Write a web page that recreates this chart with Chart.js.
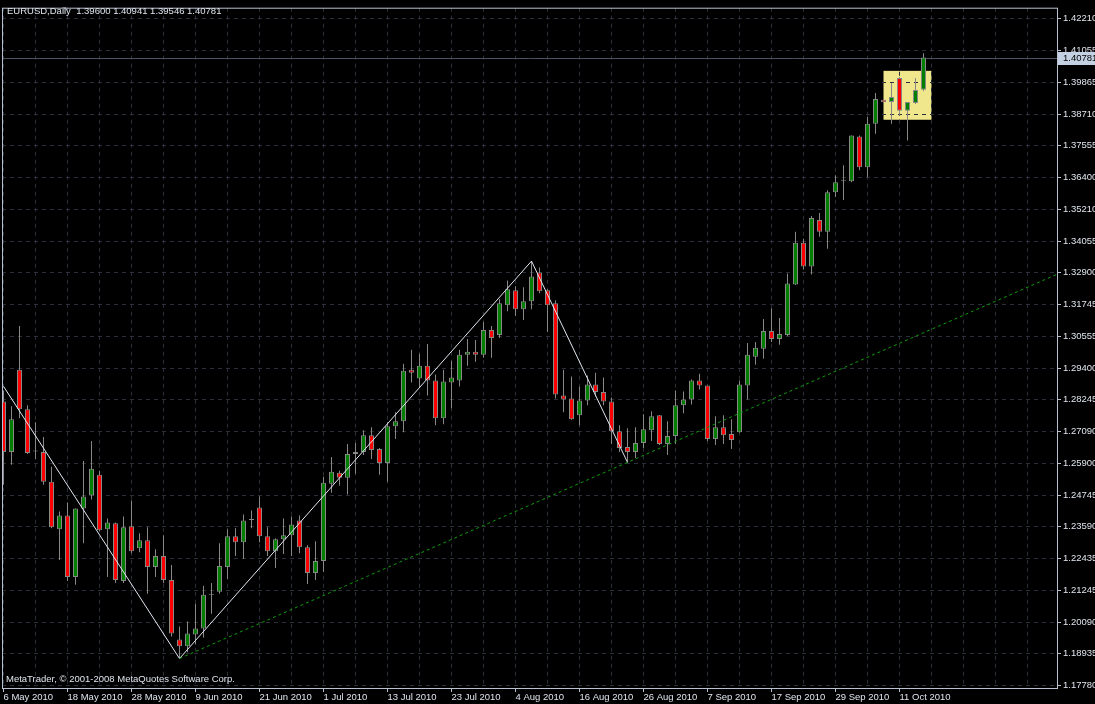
<!DOCTYPE html>
<html>
<head>
<meta charset="utf-8">
<title>EURUSD Daily</title>
<script src="https://cdn.jsdelivr.net/npm/chart.js@4.4.1/dist/chart.umd.min.js"></script>
<style>
  html, body { margin: 0; padding: 0; background: #000; }
  #wrap { position: relative; width: 1095px; height: 704px; }
</style>
</head>
<body>
<div id="wrap"><canvas id="eurChart"></canvas></div>
<script>
const symbolTitle = "EURUSD,Daily";
const copyrightText = "MetaTrader, \u00a9 2001-2008 MetaQuotes Software Corp.";

// daily bars, index 0 = 6 May 2010, last = 14 Oct 2010
const opens = [
  1.28177, 1.26323, 1.29341, 1.27887, 1.26341, 1.26323, 1.25233, 1.23488, 1.23997, 1.21743,
  1.24251, 1.24724, 1.25487, 1.23488, 1.23706, 1.21597, 1.23597, 1.22797, 1.23088, 1.22106,
  1.22506, 1.21634, 1.19452, 1.19198, 1.19634, 1.19852, 1.21088, 1.21197, 1.22106, 1.23233,
  1.23015, 1.23833, 1.24287, 1.23233, 1.22688, 1.23124, 1.23269, 1.23815, 1.22833, 1.21888,
  1.22324, 1.25160, 1.25560, 1.25378, 1.26251, 1.26323, 1.26941, 1.26432, 1.25923, 1.27269,
  1.27450, 1.29341, 1.29014, 1.29486, 1.28941, 1.27559, 1.28868, 1.28941, 1.29886, 1.29995,
  1.29886, 1.30795, 1.30613, 1.31704, 1.32249, 1.31558, 1.31849, 1.32904, 1.32249, 1.31777,
  1.28396, 1.28286, 1.27668, 1.28214, 1.28795, 1.28523, 1.28177, 1.27087, 1.26505, 1.26323,
  1.26650, 1.27123, 1.27668, 1.26614, 1.26905, 1.28032, 1.28250, 1.28941, 1.28759, 1.26796,
  1.27232, 1.26978, 1.27050, 1.28759, 1.29813, 1.30104, 1.30759, 1.30468, 1.30613, 1.32467,
  1.33994, 1.33122, 1.34830, 1.34394, 1.35848, 1.36266, 1.36248, 1.37884, 1.36757, 1.38357,
  1.39240, 1.39157, 1.40029, 1.38829, 1.39120, 1.39600
];
const highs = [
  1.28577, 1.27996, 1.30940, 1.28032, 1.27414, 1.26869, 1.25778, 1.24142, 1.24469, 1.24251,
  1.25996, 1.26723, 1.25633, 1.23888, 1.23742, 1.23960, 1.24542, 1.23342, 1.23560, 1.22761,
  1.23269, 1.22179, 1.19925, 1.20107, 1.20761, 1.21415, 1.21524, 1.22979, 1.23488, 1.23524,
  1.24033, 1.24178, 1.24687, 1.23560, 1.23160, 1.23888, 1.23960, 1.23997, 1.22906, 1.23051,
  1.25414, 1.26142, 1.25633, 1.26614, 1.26650, 1.27123, 1.27232, 1.26469, 1.27414, 1.27777,
  1.29559, 1.30068, 1.29922, 1.30286, 1.29159, 1.29341, 1.29668, 1.30068, 1.30468, 1.30431,
  1.31086, 1.30940, 1.31922, 1.32613, 1.32395, 1.32358, 1.33320, 1.33085, 1.32286, 1.31886,
  1.29341, 1.29086, 1.28723, 1.29123, 1.29232, 1.29050, 1.28323, 1.27305, 1.27196, 1.27232,
  1.27705, 1.27814, 1.27668, 1.27450, 1.28577, 1.28541, 1.28977, 1.29195, 1.28759, 1.27632,
  1.27668, 1.27523, 1.28941, 1.30322, 1.30359, 1.31195, 1.31595, 1.31231, 1.32867, 1.34394,
  1.34140, 1.34976, 1.35085, 1.35921, 1.36466, 1.36830, 1.37921, 1.37921, 1.38611, 1.39484,
  1.39247, 1.39847, 1.40065, 1.39157, 1.40029, 1.40941
];
const lows = [
  1.25124, 1.25851, 1.27559, 1.26251, 1.26069, 1.25124, 1.23524, 1.22361, 1.21597, 1.21452,
  1.22979, 1.24578, 1.23415, 1.21743, 1.21524, 1.21524, 1.22615, 1.22651, 1.21125, 1.21743,
  1.21524, 1.19561, 1.18751, 1.18980, 1.19270, 1.19525, 1.20397, 1.21125, 1.21670, 1.22506,
  1.22397, 1.23524, 1.23015, 1.22506, 1.22070, 1.22579, 1.22506, 1.22615, 1.21488, 1.21634,
  1.21924, 1.24833, 1.25087, 1.24760, 1.25523, 1.26214, 1.26069, 1.25487, 1.25233, 1.26796,
  1.27050, 1.28868, 1.28686, 1.28396, 1.27305, 1.27341, 1.27923, 1.28723, 1.29486, 1.29632,
  1.29777, 1.29777, 1.30504, 1.31486, 1.31304, 1.31159, 1.31558, 1.32140, 1.30722, 1.28286,
  1.27777, 1.27505, 1.27305, 1.28032, 1.28359, 1.28032, 1.26614, 1.26323, 1.25942, 1.26105,
  1.26469, 1.26723, 1.26578, 1.26214, 1.26614, 1.27741, 1.28068, 1.28614, 1.26723, 1.26578,
  1.26614, 1.26432, 1.27032, 1.28250, 1.29523, 1.29741, 1.30359, 1.30250, 1.30577, 1.32449,
  1.33013, 1.32831, 1.34212, 1.33776, 1.35667, 1.35557, 1.36212, 1.36648, 1.36394, 1.37993,
  1.39138, 1.38357, 1.38684, 1.37739, 1.39084, 1.39546
];
const closes = [
  1.26323, 1.27523, 1.27887, 1.26287, 1.26378, 1.25233, 1.23560, 1.23997, 1.21743, 1.24251,
  1.24687, 1.25705, 1.23451, 1.23742, 1.21634, 1.23560, 1.22688, 1.23088, 1.22106, 1.22506,
  1.21634, 1.19670, 1.19198, 1.19670, 1.19852, 1.21088, 1.21124, 1.22142, 1.23233, 1.23015,
  1.23815, 1.23869, 1.23233, 1.22688, 1.23124, 1.23269, 1.23669, 1.22833, 1.21888, 1.22324,
  1.25196, 1.25596, 1.25378, 1.26251, 1.26323, 1.26941, 1.26396, 1.25923, 1.27269, 1.27450,
  1.29304, 1.29232, 1.29486, 1.28941, 1.27559, 1.28905, 1.29050, 1.29886, 1.29995, 1.29886,
  1.30795, 1.30504, 1.31777, 1.32286, 1.31558, 1.31849, 1.32758, 1.32213, 1.31704, 1.28432,
  1.28250, 1.27523, 1.28214, 1.28795, 1.28523, 1.28177, 1.27087, 1.26469, 1.26323, 1.26650,
  1.27159, 1.27632, 1.26614, 1.26905, 1.28032, 1.28250, 1.28941, 1.28759, 1.26796, 1.27232,
  1.26941, 1.26760, 1.28795, 1.29886, 1.30141, 1.30759, 1.30468, 1.30650, 1.32504, 1.33994,
  1.33122, 1.34903, 1.34394, 1.35848, 1.36212, 1.36302, 1.37921, 1.36757, 1.38357, 1.39266,
  1.39146, 1.39338, 1.38829, 1.39157, 1.39593, 1.40781
];

// date labels on the time axis, one every 8 bars
const dateLabels = [
  "6 May 2010", "18 May 2010", "28 May 2010", "9 Jun 2010", "21 Jun 2010",
  "1 Jul 2010", "13 Jul 2010", "23 Jul 2010", "4 Aug 2010", "16 Aug 2010",
  "26 Aug 2010", "7 Sep 2010", "17 Sep 2010", "29 Sep 2010", "11 Oct 2010"
];
const dateLabelStep = 8;
const gridStep = 4;

// price scale labels (right side)
const priceTicks = [
  1.42210, 1.41055, 1.39865, 1.38710, 1.37555, 1.36400, 1.35210, 1.34055,
  1.32900, 1.31745, 1.30555, 1.29400, 1.28245, 1.27090, 1.25900, 1.24745,
  1.23590, 1.22435, 1.21245, 1.20090, 1.18935, 1.17780
];

// zigzag line (bar index / price)
const zigzagBars = [0, 22, 66, 78];
const zigzagPrices = [1.28730, 1.18751, 1.33320, 1.25942];

// trendline ray anchors
const trendBars = [22, 78];
const trendPrices = [1.18751, 1.25942];

// rectangle object
const boxBars = [110, 116];
const boxPrices = [1.38502, 1.40295];

// colours
const upColor = "#008000";
const downColor = "#ff0000";
const wickColor = "#878787";
const gridColor = "#2b2f3a";
const frameColor = "#b7c1cf";
const textColor = "#dfe4ec";
const fontFamily = "'Liberation Sans', Arial, sans-serif";
const fontSize = 9.5;

const lastBar = closes.length - 1;
const barIdx = opens.map((_, i) => i);

Chart.defaults.font.family = fontFamily;
Chart.defaults.font.size = fontSize;

// extra drawing: rectangle, bid line, trendline, frame, labels
const chartDecor = {
    id: "chartDecor",
    beforeDraw(chart) {
        const { ctx, scales: { x, y } } = chart;
        const x1 = x.getPixelForValue(boxBars[0]);
        const x2 = x.getPixelForValue(boxBars[1]);
        const y1 = y.getPixelForValue(boxPrices[1]);
        const y2 = y.getPixelForValue(boxPrices[0]);
        ctx.save();
        ctx.fillStyle = "#f0e68c";
        ctx.fillRect(x1, y1, x2 - x1, y2 - y1);
        ctx.restore();
    },
    beforeDatasetsDraw(chart) {
        const { ctx, chartArea, scales: { y } } = chart;
        const by = Math.round(y.getPixelForValue(closes[lastBar])) + 0.5;
        ctx.save();
        ctx.strokeStyle = "#4b5363";
        ctx.lineWidth = 1;
        ctx.beginPath();
        ctx.moveTo(chartArea.left, by);
        ctx.lineTo(chartArea.right, by);
        ctx.stroke();
        ctx.restore();
    },
    afterDatasetsDraw(chart) {
        const { ctx, chartArea, scales: { x, y } } = chart;
        const tx1 = x.getPixelForValue(trendBars[0]);
        const ty1 = y.getPixelForValue(trendPrices[0]);
        const tx2 = x.getPixelForValue(trendBars[1]);
        const ty2 = y.getPixelForValue(trendPrices[1]);
        const slope = (ty2 - ty1) / (tx2 - tx1);
        const xr = chartArea.right;

        ctx.save();
        ctx.beginPath();
        ctx.rect(chartArea.left, chartArea.top, chartArea.right - chartArea.left, chartArea.bottom - chartArea.top);
        ctx.clip();
        ctx.strokeStyle = "#0c9a0c";
        ctx.lineWidth = 1;
        ctx.setLineDash([3, 3]);
        ctx.beginPath();
        ctx.moveTo(tx1, ty1);
        ctx.lineTo(xr, ty1 + slope * (xr - tx1));
        ctx.stroke();
        ctx.restore();

        // frame round the chart
        ctx.save();
        ctx.strokeStyle = frameColor;
        ctx.lineWidth = 1;
        ctx.strokeRect(chartArea.left + 0.5, chartArea.top + 0.5,
            chartArea.right - chartArea.left, chartArea.bottom - chartArea.top);
        ctx.restore();
    },
    afterDraw(chart) {
        const { ctx, chartArea, scales: { y } } = chart;
        const font = fontSize + "px " + fontFamily;

        // current price label
        const by = Math.round(y.getPixelForValue(closes[lastBar]));
        ctx.save();
        ctx.fillStyle = "#c3d1e3";
        ctx.fillRect(chartArea.right + 1, by - 6, 40, 13);
        ctx.fillStyle = "#000";
        ctx.font = font;
        ctx.textBaseline = "middle";
        ctx.textAlign = "left";
        ctx.fillText(closes[lastBar].toFixed(5), chartArea.right + 6, by + 0.5);

        // header and copyright
        ctx.fillStyle = textColor;
        const header = symbolTitle + "  " + opens[lastBar].toFixed(5) + " " +
            highs[lastBar].toFixed(5) + " " + lows[lastBar].toFixed(5) + " " +
            closes[lastBar].toFixed(5);
        ctx.fillText(header, 7, 11);
        ctx.fillText(copyrightText, 6, 679);
        ctx.restore();
    }
};

const isLabelTick = (v) =>
    v % dateLabelStep === 0 && v / dateLabelStep < dateLabels.length;

new Chart(document.getElementById("eurChart"), {
    type: "bar",
    data: {
        datasets: [
            {
                type: "line",
                label: "ZigZag",
                data: zigzagBars.map((b, k) => ({ x: b, y: zigzagPrices[k] })),
                borderColor: "#e2e8f2",
                borderWidth: 1,
                pointRadius: 0,
                tension: 0,
                order: 0,
            },
            {
                label: "Body",
                data: barIdx.map((i) => ({ x: i, y: [opens[i], closes[i]] })),
                backgroundColor: barIdx.map((i) =>
                    closes[i] >= opens[i] ? upColor : downColor
                ),
                borderColor: wickColor,
                borderWidth: 1,
                borderSkipped: false,
                barThickness: 5,
                grouped: false,
                inflateAmount: 0,
                order: 1,
            },
            {
                label: "Wick",
                data: barIdx.map((i) => ({ x: i, y: [lows[i], highs[i]] })),
                backgroundColor: wickColor,
                borderWidth: 0,
                barThickness: 1,
                grouped: false,
                inflateAmount: 0,
                order: 2,
            },
        ],
    },
    options: {
        responsive: true,
        maintainAspectRatio: false,
        animation: false,
        events: [],
        layout: { padding: { left: 2, top: 2, right: 0, bottom: 0 } },
        plugins: {
            legend: { display: false },
            tooltip: { enabled: false },
        },
        scales: {
            x: {
                type: "linear",
                min: -0.1875,
                max: 131.6875,
                offset: false,
                afterBuildTicks: (scale) => {
                    const t = [];
                    for (let v = 0; v <= 128; v += gridStep) t.push({ value: v });
                    scale.ticks = t;
                },
                afterFit: (scale) => {
                    scale.height = 16;
                },
                grid: {
                    offset: false,
                    color: gridColor,
                    lineWidth: 1,
                    tickLength: 4,
                    tickWidth: 1,
                    tickColor: (c) =>
                        c.tick && isLabelTick(c.tick.value) ? frameColor : "rgba(0,0,0,0)",
                },
                border: { display: false, dash: [4, 4] },
                ticks: {
                    color: textColor,
                    padding: 0,
                    align: "start",
                    autoSkip: false,
                    maxRotation: 0,
                    callback: (v) =>
                        isLabelTick(v) ? dateLabels[v / dateLabelStep] : "",
                },
            },
            y: {
                position: "right",
                min: 1.17671,
                max: 1.4261,
                afterBuildTicks: (scale) => {
                    scale.ticks = priceTicks.map((v) => ({ value: v }));
                },
                afterFit: (scale) => {
                    scale.width = 38;
                },
                grid: {
                    color: gridColor,
                    lineWidth: 1,
                    tickLength: 4,
                    tickColor: frameColor,
                },
                border: { display: false, dash: [4, 4] },
                ticks: {
                    color: textColor,
                    padding: 2,
                    autoSkip: false,
                    callback: (v) => v.toFixed(5),
                },
            },
        },
    },
    plugins: [chartDecor],
});
</script>
</body>
</html>
